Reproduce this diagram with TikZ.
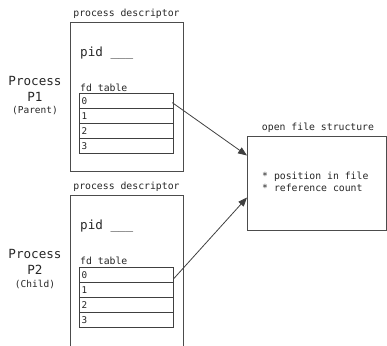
\documentclass[tikz,border=0pt]{standalone}
\usepackage{fontspec}
\setmonofont{DejaVu Sans Mono}
\usetikzlibrary{arrows.meta}
\tikzset{
  box/.style={draw=black!70, line width=1pt},
  cell/.style={draw=black!75, line width=1.3pt, minimum width=94pt, minimum height=15pt, inner sep=0pt, anchor=north west, font=\ttfamily\fontsize{9.3}{10}\selectfont, text=black!85, text width=90pt, align=left},
  lbl/.style={font=\ttfamily\fontsize{9.8}{11}\selectfont, text=black!85, inner sep=0pt},
  big/.style={font=\ttfamily\fontsize{12.6}{14}\selectfont, text=black!85, inner sep=0pt},
  sml/.style={font=\ttfamily\fontsize{9.5}{10}\selectfont, text=black!85, inner sep=0pt},
  arr/.style={draw=black!75, line width=0.8pt, -{Triangle[length=9pt,width=7pt]}}
}
\begin{document}
\begin{tikzpicture}[x=1pt,y=-1pt]
\useasboundingbox (0,0) rectangle (387,345);
% top process descriptor
\node[box, minimum width=113pt, minimum height=149pt, inner sep=0pt, anchor=north west] (pd1) at (70,22) {};
\node[lbl] (pd1t) at (126.5,14) {process descriptor};
\node[big, anchor=west] (pid1) at (80,53) {pid \_\_\_};
\node[big] (p1a) at (35,81) {Process};
\node[big] (p1b) at (35,97) {P1};
\node[sml] (p1c) at (35,111) {(Parent)};
\node[lbl, anchor=west] (fd1) at (80,87.5) {fd table};
\node[cell] (r10) at (79,93) {0};
\node[cell] (r11) at (79,108) {1};
\node[cell] (r12) at (79,123) {2};
\node[cell] (r13) at (79,138) {3};
% bottom process descriptor
\coordinate (bl) at (70,346);
\coordinate (br) at (183,346);
\draw[box] (bl) -- (70,195) -- (183,195) -- (br);
\node[lbl] (pd2t) at (126.5,187) {process descriptor};
\node[big, anchor=west] (pid2) at (80,226) {pid \_\_\_};
\node[big] (p2a) at (35,254) {Process};
\node[big] (p2b) at (35,270) {P2};
\node[sml] (p2c) at (35,284) {(Child)};
\node[lbl, anchor=west] (fd2) at (80,261) {fd table};
\node[cell] (r20) at (79,267) {0};
\node[cell] (r21) at (79,282) {1};
\node[cell] (r22) at (79,297) {2};
\node[cell] (r23) at (79,312) {3};
% open file structure
\node[box, minimum width=139pt, minimum height=94pt, inner sep=0pt, anchor=north west] (ofs) at (247,136) {};
\node[lbl] (ofst) at (318,128) {open file structure};
\node[lbl, anchor=north west, align=left] (ofsx) at (262,172) {* position in file\\[1pt]* reference count};
% arrows
\draw[arr] ([shift={(-2pt,-1.5pt)}]r10.east) -- ([yshift=28pt]ofs.west);
\draw[arr] ([shift={(-1pt,-4pt)}]r20.east) -- ([yshift=-14pt]ofs.west);
\end{tikzpicture}
\end{document}
